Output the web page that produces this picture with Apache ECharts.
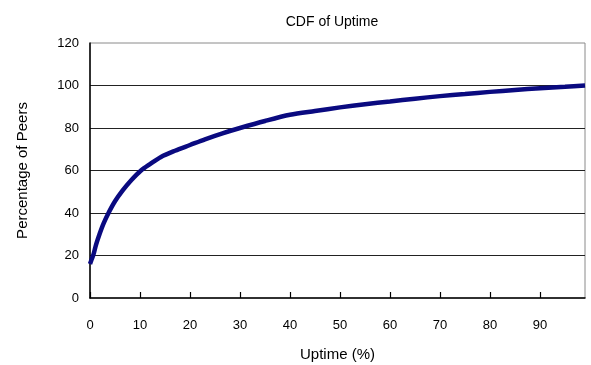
<!DOCTYPE html>
<html>
<head>
<meta charset="utf-8">
<script src="https://cdn.jsdelivr.net/npm/echarts@6/dist/echarts.min.js"></script>
<style>
  html, body { margin: 0; padding: 0; background: #fff; }
  #chart { width: 591px; height: 365px; }
</style>
</head>
<body>
<div id="chart"></div>
<script>
// Uptime (%) sample positions and cumulative share of peers (%)
const uptime = [0, 0.3, 0.7, 1.2, 1.9, 2.7, 3.7, 5, 6.5, 8.2, 10.2, 12, 14.2, 17, 20, 23, 26.5, 30, 35, 40, 45, 50, 55, 60, 65, 70, 75, 80, 85, 90, 95, 99];
const peersPct = [16, 18, 20.5, 25, 30, 35, 40, 45.5, 50.5, 55.3, 60, 63, 66.4, 69.3, 72, 74.7, 77.5, 80, 83.3, 86.2, 88, 89.7, 91.2, 92.5, 93.8, 95, 96, 97, 97.9, 98.7, 99.4, 100];
const xTicks = [0, 10, 20, 30, 40, 50, 60, 70, 80, 90];
const yTicks = [0, 20, 40, 60, 80, 100, 120];

const font = '"Liberation Sans", Arial, sans-serif';
const chart = echarts.init(document.getElementById('chart'));
chart.setOption({
  animation: false,
  title: {
    text: 'CDF of Uptime',
    left: 327, top: 10, textAlign: 'center',
    textStyle: { fontFamily: font, fontSize: 14, fontWeight: 'normal', color: '#000' }
  },
  grid: {
    left: 90, right: 6, top: 43, bottom: 67,
    outerBoundsMode: 'none',
    show: true, borderColor: '#8a8a8a', borderWidth: 1, backgroundColor: '#fff'
  },
  xAxis: {
    type: 'value', min: 0, max: 99, interval: 10,
    name: 'Uptime (%)', nameLocation: 'middle', nameGap: 49,
    nameTextStyle: { fontFamily: font, fontSize: 15, color: '#000' },
    axisLine: { lineStyle: { color: '#000', width: 1.5 } },
    axisTick: { show: true, inside: true, length: 6, lineStyle: { color: '#000', width: 1.2 } },
    axisLabel: { showMaxLabel: false, margin: 21, fontFamily: font, fontSize: 13, color: '#000' },
    splitLine: { show: false }
  },
  yAxis: {
    type: 'value', min: 0, max: 120, interval: 20,
    name: 'Percentage of Peers', nameLocation: 'middle', nameGap: 60,
    nameTextStyle: { fontFamily: font, fontSize: 15, color: '#000' },
    axisLine: { show: true, lineStyle: { color: '#000', width: 1.5 } },
    axisTick: { show: false },
    axisLabel: { margin: 11, fontFamily: font, fontSize: 13, color: '#000' },
    splitLine: { show: true, showMinLine: false, showMaxLine: false, lineStyle: { color: '#222', width: 1 } }
  },
  series: [{
    type: 'line',
    data: uptime.map((u, i) => [u, peersPct[i]]),
    smooth: 0.3,
    showSymbol: false,
    lineStyle: { color: '#0a0a80', width: 4.5 },
    clip: false
  }]
});
</script>
</body>
</html>
